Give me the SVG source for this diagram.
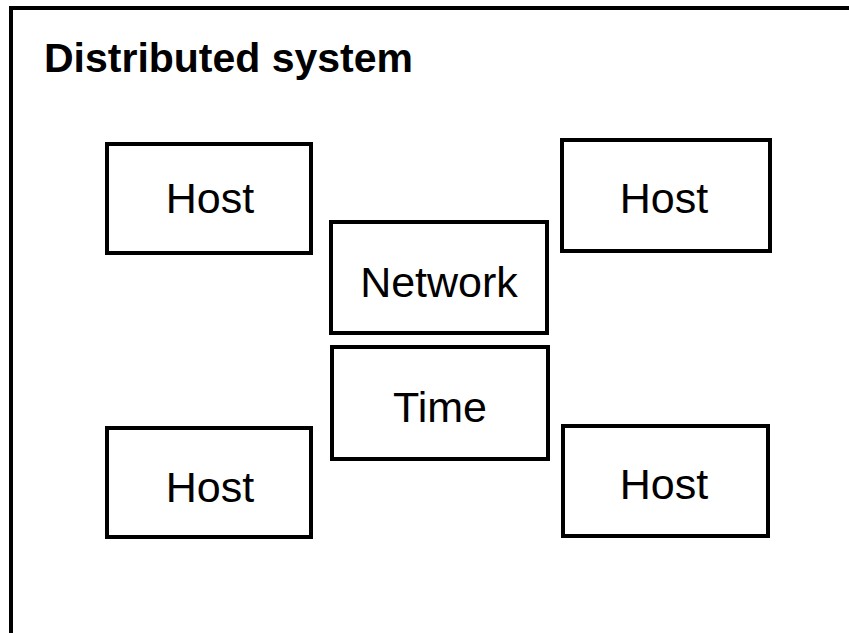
<svg xmlns="http://www.w3.org/2000/svg" width="849" height="633" viewBox="0 0 849 633">
<style>
.box{fill:#fff;stroke:#000;stroke-width:4}
.lbl{font-family:"Liberation Sans",Arial,sans-serif;font-size:43px;fill:#000;text-anchor:middle}
.title{font-family:"Liberation Sans",Arial,sans-serif;font-size:41px;font-weight:bold;fill:#000}
</style>
<rect width="849" height="633" fill="#fff"/>
<g id="system">
<rect x="11" y="8" width="860" height="650" fill="#fff" stroke="#000" stroke-width="4"/>
<text class="title" x="44" y="72" textLength="369" lengthAdjust="spacingAndGlyphs">Distributed system</text>
</g>
<g id="connectors"></g>
<g id="host-tl"><rect class="box" x="107" y="144" width="204" height="109"/><text class="lbl" x="210" y="213">Host</text></g>
<g id="host-tr"><rect class="box" x="562" y="140" width="208" height="111"/><text class="lbl" x="664" y="213">Host</text></g>
<g id="network"><rect class="box" x="331" y="222" width="216" height="111"/><text class="lbl" x="439" y="297">Network</text></g>
<g id="time"><rect class="box" x="332" y="347" width="216" height="112"/><text class="lbl" x="440" y="422">Time</text></g>
<g id="host-bl"><rect class="box" x="107" y="428" width="204" height="109"/><text class="lbl" x="210" y="502">Host</text></g>
<g id="host-br"><rect class="box" x="563" y="426" width="205" height="110"/><text class="lbl" x="664" y="499">Host</text></g>
</svg>
